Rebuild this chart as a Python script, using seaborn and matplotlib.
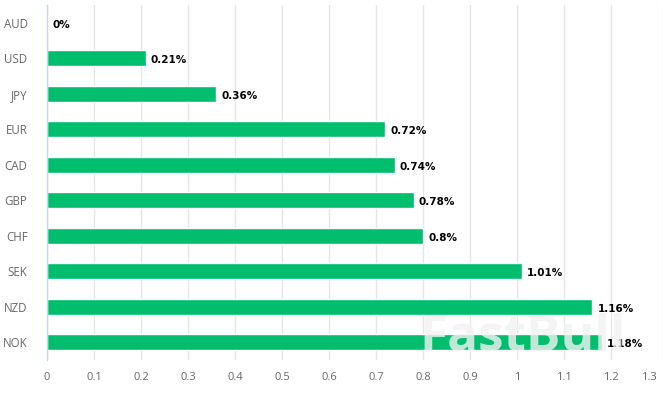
import pandas as pd
import numpy as np
import matplotlib.pyplot as plt
import matplotlib.transforms as mtransforms
import seaborn as sns
from matplotlib.ticker import FixedLocator

currencies = ['AUD', 'USD', 'JPY', 'EUR', 'CAD', 'GBP', 'CHF', 'SEK', 'NZD', 'NOK']
values = [0, 0.21, 0.36, 0.72, 0.74, 0.78, 0.8, 1.01, 1.16, 1.18]
labels = ['0%', '0.21%', '0.36%', '0.72%', '0.74%', '0.78%', '0.8%', '1.01%', '1.16%', '1.18%']
x_ticks = [0, 0.1, 0.2, 0.3, 0.4, 0.5, 0.6, 0.7, 0.8, 0.9, 1, 1.1, 1.2, 1.3]
x_tick_labels = ['0', '0.1', '0.2', '0.3', '0.4', '0.5', '0.6', '0.7', '0.8', '0.9', '1', '1.1', '1.2', '1.3']

df = pd.DataFrame({'Currency': currencies, 'Value': values})

sns.set_style('white')
plt.rcParams['font.family'] = ['Open Sans', 'DejaVu Sans']

fig = plt.figure(figsize=(6.68, 3.93), dpi=100)
ax = fig.add_axes([47 / 668, 1 - 360 / 393, 611 / 668, 355 / 393])

sns.barplot(data=df, x='Value', y='Currency', orient='h', color='#00be6e',
            width=0.46, saturation=1, ax=ax)

ax.set_xlim(0, 1.3)
ax.set_ylim(len(currencies) - 0.5, -0.5)
ax.set_xticks(x_ticks)
ax.set_xticklabels(x_tick_labels)
ax.grid(axis='x', color='#e6e6e6', linewidth=1)
ax.set_axisbelow(True)
ax.set_xlabel('')
ax.set_ylabel('')

for side in ['top', 'right', 'bottom']:
    ax.spines[side].set_visible(False)
ax.spines['left'].set_color('#ccd6eb')
ax.spines['left'].set_linewidth(1)

ax.tick_params(axis='x', length=0, pad=9, labelsize=8, labelcolor='#666666')
ax.tick_params(axis='y', which='major', length=0, pad=14, labelsize=8.3, labelcolor='#666666')
ax.yaxis.set_minor_locator(FixedLocator(np.arange(-0.5, len(currencies), 1)))
ax.tick_params(axis='y', which='minor', length=10, width=1, color='#ccd6eb')

# last x label is pulled inside like the original
last = ax.get_xticklabels()[-1]
last.set_transform(last.get_transform() + mtransforms.ScaledTranslation(-9 / 100, 0, fig.dpi_scale_trans))

for i, (v, lab) in enumerate(zip(values, labels)):
    ax.text(v + 0.011, i + 0.05, lab, va='center', ha='left', fontsize=7.5,
            fontweight='bold', color='#000000', family='DejaVu Sans', zorder=5)

# watermark
fig.text(523 / 668, 1 - 338 / 393, 'FastBull', ha='center', va='center',
         fontsize=37, fontweight='bold', color='#f2f2f2', alpha=0.8, zorder=10)

plt.savefig('out.png', dpi=100)
